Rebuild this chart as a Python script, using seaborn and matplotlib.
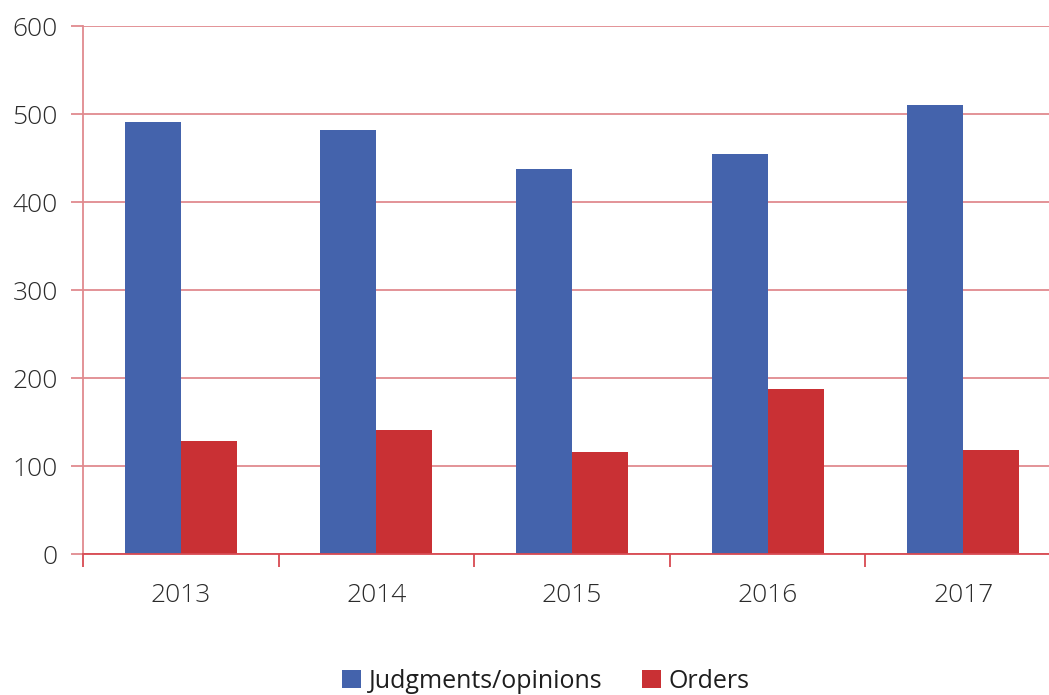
import numpy as np
import pandas as pd
import seaborn as sns
import matplotlib.pyplot as plt

# Values
years = ["2013", "2014", "2015", "2016", "2017"]
judgments = [491, 482, 438, 454, 510]
orders = [128, 141, 116, 187, 118]
series_names = ["Judgments/opinions", "Orders"]
series_colors = ["#4463ac", "#c93034"]

# Long format so seaborn can dodge the two series
df = pd.DataFrame({
    "year": years * 2,
    "count": judgments + orders,
    "series": [series_names[0]] * len(years) + [series_names[1]] * len(years),
})

sns.set_style("white")
plt.rcParams["font.family"] = ["Open Sans", "DejaVu Sans"]
plt.rcParams["font.weight"] = "light"

fig = plt.figure(figsize=(10.49, 6.95), dpi=100)
# right edge runs slightly past the figure, as in the reference
ax = fig.add_axes([83 / 1049, 1 - 554 / 695, (1061 - 83) / 1049, (554 - 26) / 695])

sns.barplot(data=df, x="year", y="count", hue="series", palette=series_colors,
            width=0.572, gap=0, saturation=1, linewidth=0, ax=ax, legend=True)

ax.set_ylim(0, 600)
ax.set_xlim(-0.5, 4.5)
ax.set_yticks(range(0, 601, 100))
ax.set_xlabel("")
ax.set_ylabel("")

grid_color = "#e08a8f"
ax.grid(axis="y", color=grid_color, linewidth=1.3, zorder=0)
ax.set_axisbelow(True)
for side in ["top", "right"]:
    ax.spines[side].set_visible(False)
ax.spines["left"].set_color(grid_color)
ax.spines["left"].set_linewidth(1.3)
ax.spines["bottom"].set_color("#d84a52")
ax.spines["bottom"].set_linewidth(1.3)

# y ticks: short stubs left of the axis in gridline colour
ax.tick_params(axis="y", length=9, width=1.3, color=grid_color, labelsize=19,
               labelcolor="#2b2b2b", pad=9, left=True)
# x ticks sit between categories
ax.set_xticks(np.arange(-0.5, 5.0, 1.0), minor=True)
ax.tick_params(axis="x", which="major", length=0, labelsize=19,
               labelcolor="#2b2b2b", pad=21)
ax.tick_params(axis="x", which="minor", length=9, width=1.3, color="#d84a52",
               bottom=True)

leg = ax.legend(loc="center", bbox_to_anchor=(546 / 1049, 1 - 681 / 695),
                bbox_transform=fig.transFigure, ncol=2, frameon=False,
                prop={"size": 18, "weight": "normal"},
                handlelength=0.75, handleheight=0.75,
                handletextpad=0.3, columnspacing=1.6)
for t in leg.get_texts():
    t.set_color("#1e1e1e")

fig.savefig("out.png", dpi=100)
